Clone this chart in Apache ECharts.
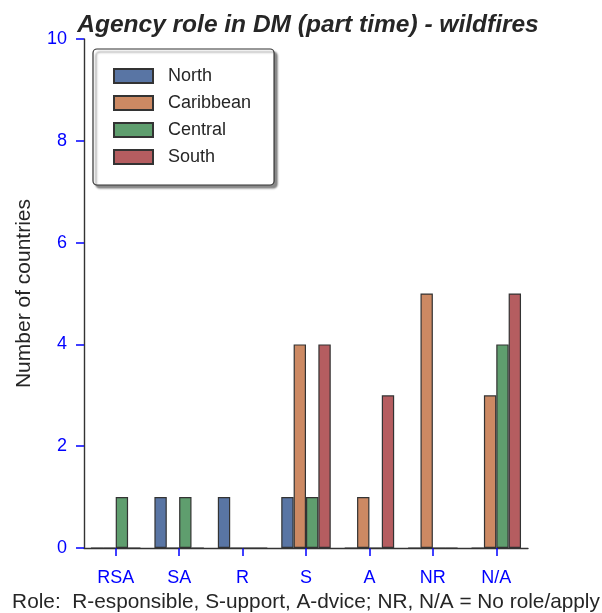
<!DOCTYPE html>
<html><head><meta charset="utf-8">
<script src="https://cdn.jsdelivr.net/npm/echarts@6/dist/echarts.min.js"></script>
<style>html,body{margin:0;padding:0;background:#fff}#c{width:602px;height:613px}</style>
</head><body><div id="c"></div>
<script>
const categories = ['RSA','SA','R','S','A','NR','N/A'];
const seriesNames = ['North','Caribbean','Central','South'];
const north = [0,1,1,1,0,0,0];
const caribbean = [0,0,0,4,1,5,3];
const central = [1,1,0,1,0,0,4];
const south = [0,0,0,4,3,0,5];
const yTicks = [0,2,4,6,8,10];
const colors = ['#5975a4','#cc8963','#5f9e6e','#b55d60'];
const values = [north, caribbean, central, south];
const FONT = '"Liberation Sans", Arial, sans-serif';

const chart = echarts.init(document.getElementById('c'), null, {renderer:'canvas'});
chart.setOption({
  animation: false,
  backgroundColor: '#fff',
  title: {
    text: 'Agency role in DM (part time) - wildfires',
    left: 303, top: 8, textAlign: 'center',
    textStyle: {fontFamily: FONT, fontSize: 24.5, fontWeight: 'bold', fontStyle: 'italic', color: '#262626'}
  },
  legend: {
    left: 93, top: 49, orient: 'vertical',
    data: seriesNames,
    itemWidth: 39, itemHeight: 14, itemGap: 9,
    padding: [18, 23, 19, 20],
    backgroundColor: '#fff', borderColor: '#333', borderWidth: 1.2, borderRadius: 4,
    shadowColor: 'rgba(0,0,0,0.45)', shadowBlur: 2, shadowOffsetX: 3, shadowOffsetY: 3,
    icon: 'rect',
    textStyle: {fontFamily: FONT, fontSize: 18, color: '#262626', padding: [0,0,0,10]}
  },
  grid: {left: 84, right: 74, top: 39, bottom: 65, containLabel: false, outerBoundsMode: 'none'},
  xAxis: {
    type: 'category', data: categories,
    name: 'Role:  R-esponsible, S-upport, A-dvice; NR, N/A = No role/apply',
    nameLocation: 'middle', nameGap: 41,
    nameTextStyle: {fontFamily: FONT, fontSize: 20.8, color: '#262626'},
    axisLine: {lineStyle: {color: '#333', width: 1.4}},
    axisTick: {show: true, alignWithLabel: true, length: 8, lineStyle: {color: 'blue', width: 1.5}},
    axisLabel: {fontFamily: FONT, fontSize: 18, color: 'blue', margin: 21}
  },
  yAxis: {
    type: 'value', min: 0, max: 10, interval: 2,
    name: 'Number of countries', nameLocation: 'middle', nameGap: 49,
    nameTextStyle: {fontFamily: FONT, fontSize: 21, color: '#262626'},
    axisLine: {show: true, lineStyle: {color: '#333', width: 1.4}},
    axisTick: {show: true, length: 8, lineStyle: {color: 'blue', width: 1.5}},
    axisLabel: {fontFamily: FONT, fontSize: 18, color: 'blue', margin: 17,
      formatter: v => yTicks.includes(v) ? String(v) : ''},
    splitLine: {show: false}
  },
  series: seriesNames.map((n, i) => ({
    name: n, type: 'bar', data: values[i],
    barGap: '0%', barCategoryGap: '22%',
    itemStyle: {color: colors[i], borderColor: '#333', borderWidth: 1.2}
  }))
});
</script></body></html>
